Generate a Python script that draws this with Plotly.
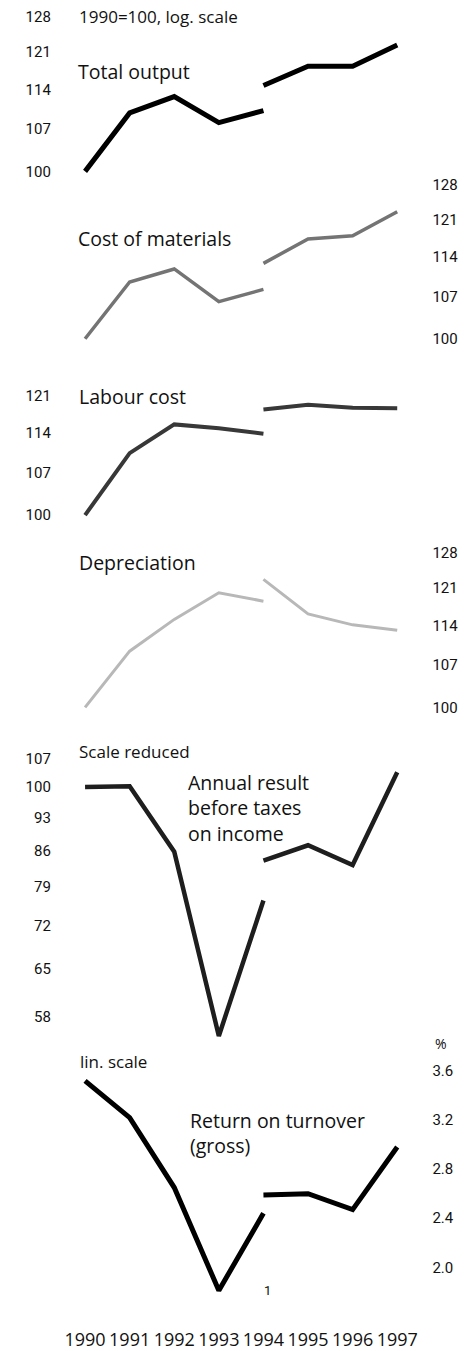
import math
import plotly.graph_objects as go

W, H = 469, 1351

# Years: the series break in 1994, so each series has an old-basis and a new-basis part
years_old = [1990, 1991, 1992, 1993, 1994]
years_new = [1994, 1995, 1996, 1997]
year_labels = ["1990", "1991", "1992", "1993", "1994", "1995", "1996", "1997"]

# Indices, 1990 = 100
total_output_old = [100, 109.8, 112.7, 108.1, 110.2]
total_output_new = [114.7, 118.3, 118.3, 122.4]

materials_old = [100, 109.5, 111.8, 106.1, 108.2]
materials_new = [112.8, 117.3, 117.9, 122.5]

labour_old = [100, 110.4, 115.6, 114.9, 113.9]
labour_new = [118.4, 119.3, 118.7, 118.6]

depreciation_old = [100, 109.4, 115.1, 120.1, 118.5]
depreciation_new = [122.7, 116.1, 114.1, 113.1]

result_old = [100, 100.2, 85.8, 55.4, 76.4]
result_new = [84.0, 87.1, 83.1, 103.6]

# Return on turnover (gross), %
return_old = [3.52, 3.22, 2.65, 1.81, 2.44]
return_new = [2.59, 2.60, 2.47, 2.98]

# Tick labels
ticks_index = [100, 107, 114, 121, 128]
ticks_labour = [100, 107, 114, 121]
ticks_result = [58, 65, 72, 79, 86, 93, 100, 107]
ticks_return = [2.0, 2.4, 2.8, 3.2, 3.6]

TEXT_FONT = "Open Sans, Noto Sans, sans-serif"
TICK_FONT = "Roboto, Liberation Sans, sans-serif"


def dom(top_px, bottom_px):
    return [1 - bottom_px / H, 1 - top_px / H]


def log_axis(ref_px, ref_val, px_per_ln, top_px, bottom_px):
    """Log axis placed so that ref_val sits at ref_px (pixels from the top)."""
    v_bot = ref_val * math.exp((ref_px - bottom_px) / px_per_ln)
    v_top = ref_val * math.exp((ref_px - top_px) / px_per_ln)
    return dict(type="log", range=[math.log10(v_bot), math.log10(v_top)],
                domain=dom(top_px, bottom_px))


def lin_axis(ref_px, ref_val, px_per_unit, top_px, bottom_px):
    v_bot = ref_val - (bottom_px - ref_px) / px_per_unit
    v_top = ref_val + (ref_px - top_px) / px_per_unit
    return dict(type="linear", range=[v_bot, v_top], domain=dom(top_px, bottom_px))


K = 628.0  # pixels per unit of ln for the normal log panels
LEFT_POS = 41 / W
RIGHT_POS = 442 / W

panels = [
    # (old, new, colour, width, axis spec, side, tick values)
    (total_output_old, total_output_new, "#000000", 5,
     log_axis(172, 100, K, 5, 185), "left", ticks_index),
    (materials_old, materials_new, "#747474", 3.5,
     log_axis(340, 100, K, 175, 355), "right", ticks_index),
    (labour_old, labour_new, "#383838", 4,
     log_axis(517, 100, K, 380, 530), "left", ticks_labour),
    (depreciation_old, depreciation_new, "#b8b8b8", 3,
     log_axis(710, 100, K, 545, 722), "right", ticks_index),
    (result_old, result_new, "#1e1e1e", 4.5,
     log_axis(790, 100, 423.0, 748, 1052), "left", ticks_result),
    (return_old, return_new, "#000000", 5,
     lin_axis(1075, 3.6, 123.1, 1040, 1310), "right", ticks_return),
]

fig = go.Figure()
layout = {}

for i, (old, new, color, width, axis, side, tvals) in enumerate(panels, start=1):
    yname = "y" if i == 1 else f"y{i}"
    lname = "yaxis" if i == 1 else f"yaxis{i}"
    for xs, ys in ((years_old, old), (years_new, new)):
        fig.add_trace(go.Scatter(
            x=xs, y=ys, mode="lines", xaxis="x", yaxis=yname,
            line=dict(color=color, width=width),
            hoverinfo="skip", showlegend=False,
        ))
    ttext = [f"{v:.1f}" if isinstance(v, float) else str(v) for v in tvals]
    layout[lname] = dict(
        **axis,
        anchor="free",
        side=side,
        position=LEFT_POS if side == "left" else RIGHT_POS,
        tickvals=tvals, ticktext=ttext,
        ticks="", showgrid=False, zeroline=False, showline=False,
        tickfont=dict(family=TICK_FONT, size=15, color="#111"),
    )

layout["xaxis"] = dict(
    domain=[67.6 / W, 415.4 / W],
    range=[1989.8, 1997.2],
    anchor="free", position=(H - 1332) / H,
    tickvals=[1990, 1991, 1992, 1993, 1994, 1995, 1996, 1997],
    ticktext=year_labels,
    ticks="", showgrid=False, zeroline=False, showline=False,
    tickfont=dict(family=TEXT_FONT, size=18, color="#111"),
)


def label(text, x_px, y_px, size, anchor="left"):
    return dict(text=text, x=x_px / W, y=1 - y_px / H, xref="paper", yref="paper",
                xanchor=anchor, yanchor="middle", showarrow=False, align="left",
                font=dict(family=TEXT_FONT, size=size, color="#111"))


annotations = [
    label("1990=100, log. scale", 68, 17, 17),
    label("Total output", 67, 72, 19.5),
    label("Cost of materials", 67, 239, 19.5),
    label("Labour cost", 68, 398, 19.5),
    label("Depreciation", 68, 565, 19.5),
    label("Scale reduced", 69, 754, 17),
    label("Annual result<br>before taxes<br>on income", 183, 811, 19.5),
    label("lin. scale", 70, 1065, 17),
    label("Return on turnover<br>(gross)", 185, 1137, 19.5),
    label("%", 452, 1047, 14, anchor="center"),
    dict(text="1", x=1994, xref="x", xshift=4, y=1 - 1295 / H, yref="paper",
         xanchor="center", yanchor="middle", showarrow=False,
         font=dict(family=TICK_FONT, size=13, color="#111")),
]

fig.update_layout(
    width=W, height=H,
    margin=dict(l=0, r=0, t=0, b=0),
    paper_bgcolor="white",
    plot_bgcolor="rgba(0,0,0,0)",
    showlegend=False,
    annotations=annotations,
    **layout,
)

fig.write_html("out.html")
